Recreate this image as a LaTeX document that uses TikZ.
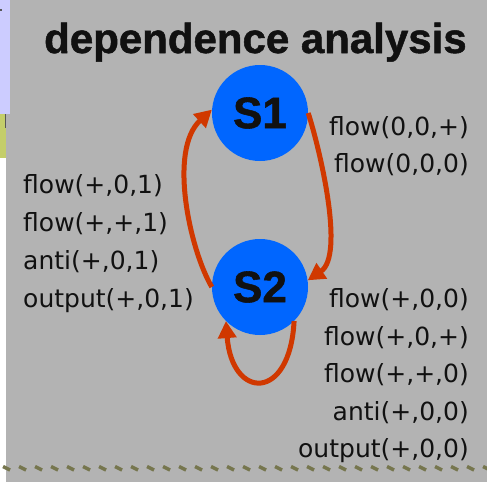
\documentclass[tikz,border=0pt]{standalone}
\usepackage{fontspec}
\setmainfont{Liberation Sans}
\newfontfamily\headfont[FakeBold=1.2]{Liberation Sans Bold}
\newfontfamily\labfont{DejaVu Sans}
\usetikzlibrary{arrows.meta}
\definecolor{panelgrey}{RGB}{179,179,179}
\definecolor{lavender}{RGB}{204,204,255}
\definecolor{olive}{RGB}{196,206,106}
\definecolor{ropeolive}{RGB}{118,118,78}
\definecolor{nodeblue}{RGB}{0,102,255}
\definecolor{edgered}{RGB}{208,56,0}
\definecolor{inkblack}{RGB}{17,17,17}
\tikzset{
  stmt/.style={circle, fill=nodeblue, minimum size=96pt, inner sep=0pt,
    text=inkblack, font=\headfont\fontsize{44}{44}\selectfont},
  dep/.style={draw=edgered, line width=5pt,
    -{Triangle[length=17pt,width=18pt]}},
  lab/.style={inner sep=0pt, text=inkblack, font=\labfont\fontsize{25}{25}\selectfont},
  rope/.style={draw=ropeolive, line width=3.5pt, line cap=butt},
}
\begin{document}
\begin{tikzpicture}[x=1pt,y=-1pt]
\useasboundingbox (0,0) rectangle (487,482);
% page background and side strips
\fill[white] (0,0) rectangle (487,482);
\fill[panelgrey] (6,0) rectangle (487,482);
\fill[lavender] (0,0) rectangle (10,114);
\fill[olive] (0,114) rectangle (6,158);
\draw[inkblack!70, line width=1pt] (5.5,114) -- (5.5,128);
\fill[inkblack!70] (0,9) rectangle (2,11);
% rope line at the bottom
\foreach \x in {3,19,...,483}
  \draw[rope] (\x,466.5) -- (\x+7,470);
% title
\node[anchor=base west, inner sep=0pt, text=inkblack,
  font=\headfont\fontsize{42}{42}\selectfont] (title) at (44,53) {dependence analysis};
% statements
\node[stmt] (s1) at (260,113) {S1};
\node[stmt] (s2) at (260,287) {S2};
% dependence edges
\draw[dep] (s1.east) .. controls (320,150) and (345,255) .. (s2.8);
\draw[dep] (s2.west) .. controls (190,250) and (168,150) .. (s1.176);
\draw[dep] (s2.-45) .. controls (290,402) and (232,400) .. (s2.-135);
% edge labels: S1 -> S2
\node[lab, anchor=base east] (r1) at (469,135) {flow(0,0,+)};
\node[lab, anchor=base east] (r2) at (469,172) {flow(0,0,0)};
% edge labels: S2 -> S1
\node[lab, anchor=base west] (l1) at (23,193) {flow(+,0,1)};
\node[lab, anchor=base west] (l2) at (23,231) {flow(+,+,1)};
\node[lab, anchor=base west] (l3) at (23,269) {anti(+,0,1)};
\node[lab, anchor=base west] (l4) at (23,307) {output(+,0,1)};
% edge labels: S2 -> S2
\node[lab, anchor=base east] (b1) at (469,307) {flow(+,0,0)};
\node[lab, anchor=base east] (b2) at (469,345) {flow(+,0,+)};
\node[lab, anchor=base east] (b3) at (469,382) {flow(+,+,0)};
\node[lab, anchor=base east] (b4) at (469,420) {anti(+,0,0)};
\node[lab, anchor=base east] (b5) at (469,457) {output(+,0,0)};
\end{tikzpicture}
\end{document}
